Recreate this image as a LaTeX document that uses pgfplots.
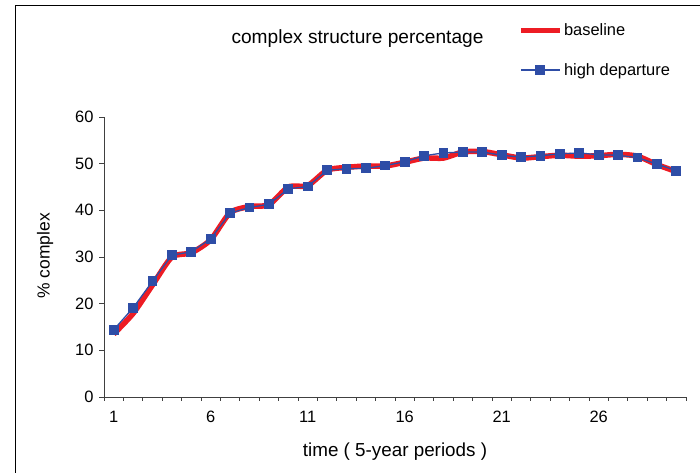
\documentclass[border=0pt]{standalone}
\usepackage{fontspec}
\setmainfont{Liberation Sans}
\usepackage{pgfplots}
\pgfplotsset{compat=1.18}
\definecolor{myred}{RGB}{237,28,36}
\definecolor{myblue}{RGB}{46,77,166}
\begin{document}
\begin{tikzpicture}[x=1bp,y=1bp]
\useasboundingbox (0,0) rectangle (700,473);
\draw[line width=1bp] (15.5,-5) -- (15.5,467) -- (705,467);
\begin{axis}[
  at={(104bp,76bp)}, anchor=origin,
  scale only axis, width=582bp, height=280bp,
  xmin=0.5, xmax=30.5, ymin=0, ymax=60,
  axis lines*=left, axis line style={-, black!75, line width=0.8bp},
  tick align=outside,
  xtick={1,6,11,16,21,26},
  major x tick style={draw=none},
  minor xtick={0.5,1.5,...,30.5},
  minor tick length=4bp,
  minor x tick style={black!75, line width=0.8bp},
  ytick={0,10,...,60},
  major tick length=5bp,
  major y tick style={black!75, line width=0.8bp},
  /pgf/number format/assume math mode=true,
  tick label style={font=\fontsize{16.5}{19}\selectfont},
  xticklabel style={yshift=-6bp},
  yticklabel style={xshift=-2bp},
  xlabel={time ( 5-year periods )},
  xlabel style={at={(axis description cs:0.5,-0.196)}, anchor=center, font=\fontsize{18.9}{22}\selectfont},
  ylabel={\% complex},
  ylabel style={at={(axis description cs:-0.101,0.504)}, anchor=center, font=\fontsize{17.5}{21}\selectfont},
  title={complex structure percentage},
  title style={at={(axis description cs:0.4356,1.257)}, anchor=center, font=\fontsize{19.2}{22}\selectfont},
  legend style={draw=none, fill=none, at={(axis description cs:0.711,1.34)}, anchor=north west,
    font=\fontsize{16.5}{19}\selectfont, row sep=22bp, inner sep=0pt,
    nodes={inner xsep=1.5bp},
    /tikz/every even column/.append style={column sep=0bp}},
  legend cell align=left,
  legend image code/.code={\draw[mark repeat=2,mark phase=2,#1] plot coordinates {(0bp,0bp) (19.5bp,0bp) (39bp,0bp)};},
  clip=false,
]
\addplot[myred, line width=5.5bp, smooth, tension=0.4] coordinates {
(1,13.5)(2,17.9)(3,24.0)(4,30.0)(5,30.9)(6,33.7)(7,39.5)(8,40.8)(9,41.2)(10,45.0)
(11,45.3)(12,48.6)(13,49.2)(14,49.5)(15,49.5)(16,50.3)(17,51.2)(18,51.2)(19,52.5)(20,52.6)
(21,51.9)(22,51.2)(23,51.5)(24,51.8)(25,51.6)(26,51.7)(27,52.0)(28,51.6)(29,49.8)(30,48.3)};
\addlegendentry{baseline}
\addplot[myblue, line width=1.3bp, mark=square*, mark size=4.2bp, mark options={fill=myblue}] coordinates {
(1,14.4)(2,19.1)(3,24.8)(4,30.4)(5,31.1)(6,33.9)(7,39.4)(8,40.6)(9,41.3)(10,44.6)
(11,45.1)(12,48.6)(13,48.9)(14,49.0)(15,49.6)(16,50.4)(17,51.7)(18,52.3)(19,52.5)(20,52.5)
(21,51.8)(22,51.4)(23,51.7)(24,52.1)(25,52.3)(26,51.9)(27,51.8)(28,51.3)(29,49.9)(30,48.5)};
\addlegendentry{high departure}
\end{axis}
\end{tikzpicture}
\end{document}
